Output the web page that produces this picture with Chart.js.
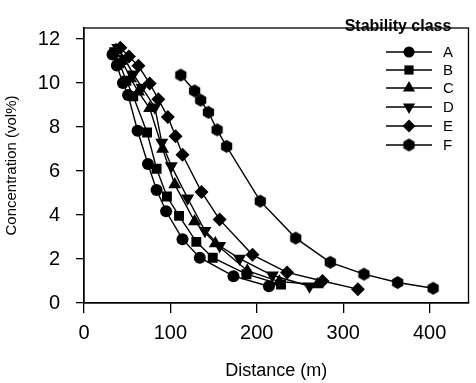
<!DOCTYPE html>
<html>
<head>
<meta charset="UTF-8">
<title>Concentration vs distance</title>
<script src="https://cdn.jsdelivr.net/npm/chart.js"></script>
<style>
  body { margin: 0; background: #fff; }
  #wrap { width: 476px; height: 383px; }
</style>
</head>
<body>
<div id="wrap"><canvas id="chart" width="476" height="383"></canvas></div>
<script>
// values
const distA = [33, 38, 45, 51, 62, 74, 84, 95, 114, 134, 173, 214];
const concA = [11.3, 10.8, 10.0, 9.45, 7.83, 6.32, 5.14, 4.17, 2.9, 2.06, 1.22, 0.76];

const distB = [35, 41, 49, 57, 73, 84, 96, 110, 130, 149, 188, 228];
const concB = [11.4, 10.9, 10.1, 9.4, 7.75, 6.1, 4.84, 3.96, 2.78, 2.06, 1.31, 0.84];

const distC = [37, 44, 54, 63, 76, 91, 105, 128, 152, 189, 226, 270];
const concC = [11.5, 11.0, 10.2, 9.6, 8.85, 7.0, 5.39, 3.71, 2.7, 1.47, 0.97, 0.84];

const distD = [39, 47, 57, 67, 82, 90, 101, 120, 140, 157, 180, 218, 261];
const concD = [11.6, 11.1, 10.4, 9.8, 8.9, 7.3, 6.23, 4.76, 3.28, 2.6, 2.02, 1.26, 0.76];

const distE = [42, 52, 63, 76, 86, 97, 106, 114, 136, 157, 195, 235, 276, 317];
const concE = [11.6, 11.2, 10.78, 9.98, 9.26, 8.46, 7.58, 6.74, 5.05, 3.79, 2.19, 1.39, 1.0, 0.63];

const distF = [112, 128, 135, 144, 154, 165, 204, 245, 285, 324, 363, 404];
const concF = [10.36, 9.64, 9.22, 8.67, 7.87, 7.12, 4.63, 2.95, 1.85, 1.31, 0.93, 0.67];

const classNames = ['A', 'B', 'C', 'D', 'E', 'F'];
const xTicks = [0, 100, 200, 300, 400];
const yTicks = [0, 2, 4, 6, 8, 10, 12];

// small filled hexagon used as marker for class F
function hexagon(r) {
  const c = document.createElement('canvas');
  c.width = c.height = r * 2 + 2;
  const g = c.getContext('2d');
  g.fillStyle = '#000';
  g.beginPath();
  for (let i = 0; i < 6; i++) {
    const a = Math.PI / 6 + i * Math.PI / 3;
    const px = r + 1 + r * Math.cos(a), py = r + 1 + r * Math.sin(a);
    if (i === 0) g.moveTo(px, py); else g.lineTo(px, py);
  }
  g.closePath();
  g.fill();
  return c;
}
const hex = hexagon(6.5);

const markers = [
  { pointStyle: 'circle', radius: 6, rotation: 0 },
  { pointStyle: 'rect', radius: 7, rotation: 0 },
  { pointStyle: 'triangle', radius: 7.5, rotation: 0 },
  { pointStyle: 'triangle', radius: 7.5, rotation: 180 },
  { pointStyle: 'rectRot', radius: 7, rotation: 0 },
  { pointStyle: hex, radius: 6.5, rotation: 0 }
];

function pts(xs, ys) {
  return xs.map((x, i) => ({ x: x, y: ys[i] }));
}
const series = [[distA, concA], [distB, concB], [distC, concC], [distD, concD], [distE, concE], [distF, concF]];

const datasets = series.map((s, i) => ({
  label: classNames[i],
  data: pts(s[0], s[1]),
  borderColor: '#000',
  backgroundColor: '#000',
  borderWidth: 1.4,
  pointStyle: markers[i].pointStyle,
  pointRadius: markers[i].radius,
  pointRotation: markers[i].rotation,
  pointBorderWidth: 0,
  pointBackgroundColor: '#000',
  showLine: true,
  tension: 0
}));

const font = 'Liberation Sans, Arial, sans-serif';

// frame around the plot and the hand placed legend
const framePlugin = {
  id: 'frame',
  afterDraw(chart) {
    const ctx = chart.ctx, a = chart.chartArea;
    ctx.save();
    ctx.strokeStyle = '#000';
    ctx.lineWidth = 1.3;
    ctx.strokeRect(a.left, a.top, a.right - a.left, a.bottom - a.top);

    ctx.fillStyle = '#000';
    ctx.font = 'bold 16px ' + font;
    ctx.textAlign = 'center';
    ctx.textBaseline = 'alphabetic';
    ctx.fillText('Stability class', 398, 31);

    const rows = [52, 70, 88, 107, 126, 145];
    ctx.font = '15px ' + font;
    ctx.textAlign = 'left';
    ctx.textBaseline = 'middle';
    rows.forEach((y, i) => {
      ctx.lineWidth = 1.3;
      ctx.beginPath();
      ctx.moveTo(386, y);
      ctx.lineTo(432, y);
      ctx.stroke();
      Chart.helpers.drawPoint(ctx, {
        pointStyle: markers[i].pointStyle,
        radius: markers[i].radius - 0.5,
        rotation: markers[i].rotation,
        borderWidth: 0
      }, 409, y);
      ctx.fillText(classNames[i], 443, y + 1);
    });
    ctx.restore();
  }
};

new Chart(document.getElementById('chart'), {
  type: 'scatter',
  data: { datasets: datasets },
  plugins: [framePlugin],
  options: {
    responsive: false,
    animation: false,
    layout: { padding: { top: 5, right: 6, left: 0, bottom: 0 } },
    plugins: { legend: { display: false }, tooltip: { enabled: false } },
    scales: {
      x: {
        type: 'linear',
        min: 0,
        max: 445,
        afterBuildTicks(scale) { scale.ticks = xTicks.map(v => ({ value: v })); },
        afterFit(scale) { scale.height = 80; },
        border: { display: true, color: '#000', width: 1.3 },
        grid: { drawOnChartArea: false, color: '#000', tickLength: 10, lineWidth: 1.3 },
        ticks: { color: '#000', padding: 8, font: { family: font, size: 20 } },
        title: {
          display: true, text: 'Distance (m)', color: '#000',
          font: { family: font, size: 18 }, padding: { top: 0, bottom: 1 }
        }
      },
      y: {
        type: 'linear',
        min: 0,
        max: 12.5,
        afterBuildTicks(scale) { scale.ticks = yTicks.map(v => ({ value: v })); },
        afterFit(scale) { scale.width = 84; },
        border: { display: true, color: '#000', width: 1.3 },
        grid: { drawOnChartArea: false, color: '#000', tickLength: 8, lineWidth: 1.3 },
        ticks: { color: '#000', padding: 16, font: { family: font, size: 20 } },
        title: {
          display: true, text: 'Concentration (vol%)', color: '#000',
          font: { family: font, size: 15 }, padding: { top: 3, bottom: 0 }
        }
      }
    }
  }
});
</script>
</body>
</html>
